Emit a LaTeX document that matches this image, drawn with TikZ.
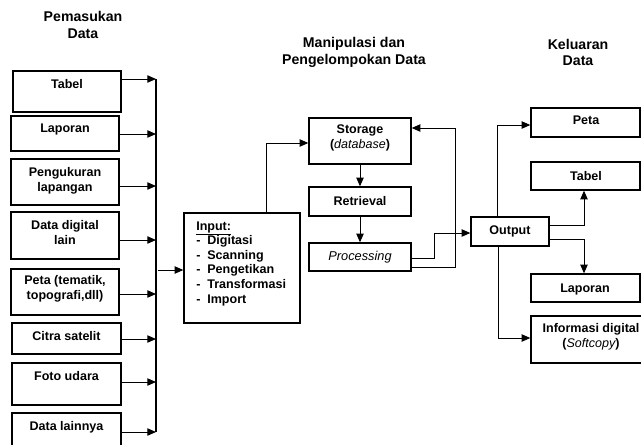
\documentclass[tikz,border=0pt]{standalone}
\usepackage{fontspec}
\setmainfont{Liberation Sans}
\usetikzlibrary{arrows.meta}
\begin{document}
\begin{tikzpicture}[x=0.75pt,y=-0.75pt,
  box/.style={draw, line width=1pt, inner sep=0pt},
  sz/.style 2 args={minimum width=#1*0.75pt, minimum height=#2*0.75pt},
  txt/.style={font=\fontsize{9.4}{11.5}\selectfont\bfseries, align=center, inner sep=0pt},
  ttl/.style={font=\fontsize{10.6}{12.6}\selectfont\bfseries, align=center, inner sep=0pt},
  arr/.style={line width=0.75pt, -{Triangle[length=6.5pt,width=5.5pt]}},
  bus/.style={line width=1.1pt},
]
\useasboundingbox (0,0) rectangle (641,444);
% titles
\node[ttl] (t1) at (83,25) {Pemasukan\\Data};
\node[ttl] (t2) at (354,52.5) {Manipulasi dan\\Pengelompokan Data};
\node[ttl] (t3) at (578,52.5) {Keluaran\\Data};
% left boxes
\node[box, sz={108}{41}] (tabL) at (67,91.5) {};
\node[box, sz={108}{35}] (lapL) at (65,133.5) {};
\node[box, sz={108}{46}] (ukur) at (65,182) {};
\node[box, sz={108}{47}] (digi) at (65,235.5) {};
\node[box, sz={108}{46}] (petaL) at (65,292) {};
\node[box, sz={109}{31}] (citra) at (66.5,338.5) {};
\node[box, sz={109}{42}] (foto) at (66.5,384) {};
\node[box, sz={109}{39}] (lain) at (66.5,432.5) {};
\node[txt] (tabLt) at (67,84) {Tabel};
\node[txt] (lapLt) at (65,129) {Laporan};
\node[txt] (ukurt) at (65,180.5) {Pengukuran\\lapangan};
\node[txt] (digit) at (65,232.5) {Data digital\\lain};
\node[txt] (petaLt) at (65,289) {Peta (tematik,\\topografi,dll)};
\node[txt] (citrat) at (66.5,336) {Citra satelit};
\node[txt] (fotot) at (66.5,376) {Foto udara};
\node[txt] (laint) at (66.5,427) {Data lainnya};
% middle boxes
\node[box, sz={116}{110}] (input) at (242,268) {};
\node[txt, align=left, anchor=west, font=\fontsize{9.4}{10.95}\selectfont\bfseries] (inputt) at (196,263.5)
  {\underline{Input:}\\\makebox[8.3pt][l]{-}Digitasi\\\makebox[8.3pt][l]{-}Scanning\\\makebox[8.3pt][l]{-}Pengetikan\\\makebox[8.3pt][l]{-}Transformasi\\\makebox[8.3pt][l]{-}Import};
\node[box, sz={102}{46}] (storage) at (360,141) {};
\node[box, sz={102}{29}] (retrieval) at (360,201.5) {};
\node[box, sz={102}{28}] (processing) at (360,257) {};
\node[box, sz={78}{29}] (output) at (510,231.5) {};
\node[txt] (storaget) at (360,138) {Storage\\({\mdseries\itshape database})};
\node[txt] (retrievalt) at (360,201) {Retrieval};
\node[txt, font=\fontsize{9.6}{11.5}\selectfont\itshape] (processingt) at (360,257) {Processing};
\node[txt] (outputt) at (510,231) {Output};
% right boxes
\node[box, sz={109}{29}] (petaR) at (585.5,122.5) {};
\node[box, sz={109}{28}] (tabR) at (585.5,176) {};
\node[box, sz={109}{28}] (lapR) at (585.5,288) {};
\node[box, sz={120}{47}] (info) at (591,339.5) {};
\node[txt] (petaRt) at (586,120) {Peta};
\node[txt] (tabRt) at (586,176) {Tabel};
\node[txt] (lapRt) at (585,289) {Laporan};
\node[txt] (infot) at (591,336.5) {Informasi digital\\({\mdseries\itshape Softcopy})};
% bus and left arrows
\coordinate (b1) at (156,79);
\coordinate (b2) at (156,134);
\coordinate (b3) at (156,186);
\coordinate (b4) at (156,240);
\coordinate (b5) at (156,294);
\coordinate (b6) at (156,339);
\coordinate (b7) at (156,382);
\coordinate (b8) at (156,432);
\draw[bus] (b1) -- (b8);
\draw[arr] (tabL.east |- b1) -- (b1);
\draw[arr] (lapL.east |- b2) -- (b2);
\draw[arr] (ukur.east |- b3) -- (b3);
\draw[arr] (digi.east |- b4) -- (b4);
\draw[arr] (petaL.east |- b5) -- (b5);
\draw[arr] (citra.east |- b6) -- (b6);
\draw[arr] (foto.east |- b7) -- (b7);
\draw[arr] (lain.east |- b8) -- (b8);
\coordinate (bin) at (158,270);
\draw[arr] (bin) -- (input.west |- bin);
% middle
\coordinate (s1) at (266,143);
\draw[arr] (input.north -| s1) -- (s1) -- (storage.west |- s1);
\draw[arr] (storage.south) -- (retrieval.north);
\draw[arr] (retrieval.south) -- (processing.north);
\coordinate (p1) at (434,258);
\coordinate (p2) at (434,233);
\draw[arr] (processing.east |- p1) -- (p1) -- (p2) -- (output.west |- p2);
\coordinate (q1) at (455,267);
\coordinate (q2) at (455,128);
\draw[arr] (processing.east |- q1) -- (q1) -- (q2) -- (storage.east |- q2);
% right
\coordinate (o1) at (497,125);
\draw[arr] (output.north -| o1) -- (o1) -- (petaR.west |- o1);
\coordinate (o2) at (584,225);
\draw[arr] (output.east |- o2) -- (o2) -- (tabR.south -| o2);
\coordinate (o3) at (584,239);
\draw[arr] (output.east |- o3) -- (o3) -- (lapR.north -| o3);
\coordinate (o4) at (498,338);
\draw[arr] (output.south -| o4) -- (o4) -- (info.west |- o4);
\end{tikzpicture}
\end{document}
